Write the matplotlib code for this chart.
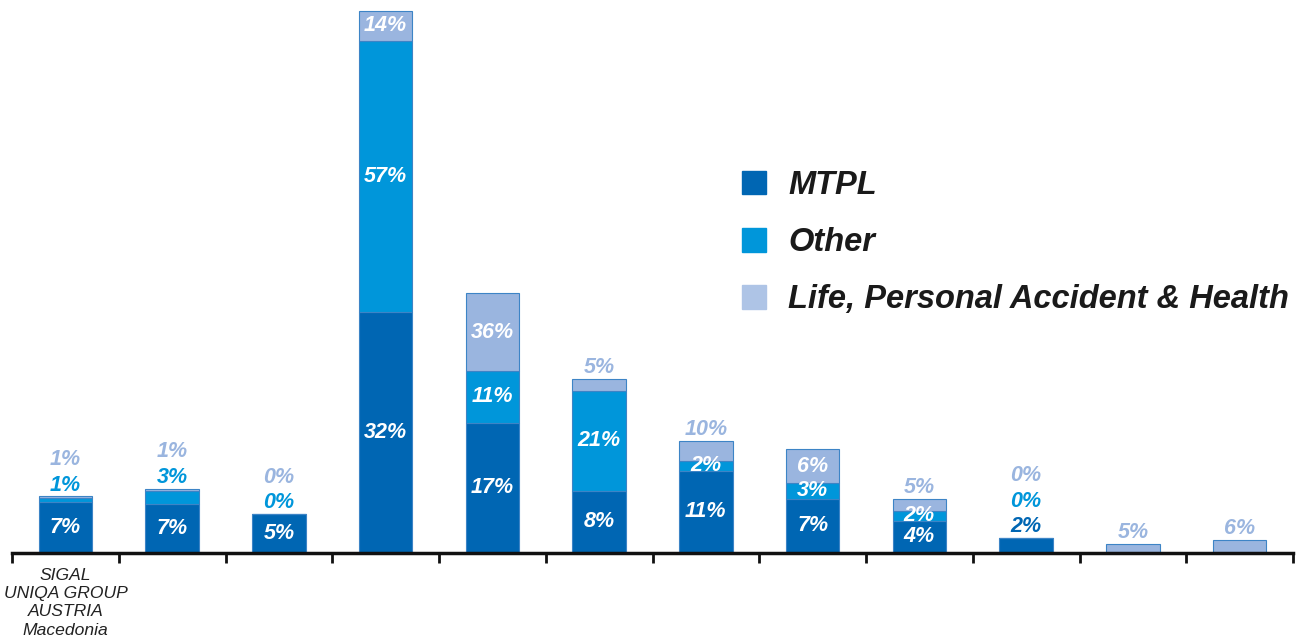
import matplotlib.pyplot as plt
from matplotlib.patches import Patch

# Companies on the x axis (only the first one is named)
companies = ['SIGAL\nUNIQA GROUP\nAUSTRIA\nMacedonia'] + [''] * 11
series = ['MTPL', 'Other', 'Life, Personal Accident & Health']

# Gross written premium per class of insurance
mtpl_premium = [51, 48.7, 38.7, 240.7, 129.7, 61.7, 82, 53.7, 31.7, 14.7, 0, 0]
other_premium = [3.4, 13, 0, 271, 52, 100, 9.7, 16, 10.3, 0, 0, 0]
life_premium = [2, 2.3, 0, 30.4, 78, 12, 20.3, 34, 12, 0, 9, 12.7]

# Market share within each class, in %
mtpl_share = [7, 7, 5, 32, 17, 8, 11, 7, 4, 2, None, None]
other_share = [1, 3, 0, 57, 11, 21, 2, 3, 2, 0, None, None]
life_share = [1, 1, 0, 14, 36, 5, 10, 6, 5, 0, 5, 6]

premiums = [mtpl_premium, other_premium, life_premium]
shares = [mtpl_share, other_share, life_share]

# (company, class) labels written above the bar instead of inside
above = {(0, 1), (0, 2), (1, 1), (1, 2), (2, 1), (2, 2), (5, 2), (6, 2),
         (8, 2), (9, 0), (9, 1), (9, 2), (10, 2), (11, 2)}

colors = ['#0066b3', '#0096da', '#9ab5df']
legend_colors = ['#0066b3', '#0096da', '#aec4e6']

plt.rcParams['font.family'] = ['Liberation Sans', 'DejaVu Sans']

fig = plt.figure(figsize=(13.06, 6.43), dpi=100)
ax = fig.add_axes([12 / 1306, 90.3 / 643, 1281 / 1306, 552.7 / 643])

x = list(range(len(companies)))
bottom = [0.0] * len(companies)
for s in range(3):
    ax.bar(x, premiums[s], 0.5, bottom=bottom, color=colors[s],
           edgecolor='#3d84c6', linewidth=0.8, zorder=2)
    bottom = [b + v for b, v in zip(bottom, premiums[s])]

label_font = dict(fontsize=15.5, fontweight='bold', fontstyle='italic')
for i in x:
    base = 0.0
    stacked = 0
    for s in range(3):
        h = premiums[s][i]
        share = shares[s][i]
        if share is not None:
            txt = f'{share}%'
            if (i, s) in above:
                ax.annotate(txt, (i, bottom[i]), xytext=(0, 8 + 18.5 * stacked),
                            textcoords='offset points', ha='center', va='center',
                            color=colors[s], zorder=3, **label_font)
                stacked += 1
            else:
                ax.text(i, base + h / 2, txt, ha='center', va='center',
                        color='white', zorder=3, **label_font)
        base += h

ax.set_xlim(-0.5, len(companies) - 0.5)
ax.set_ylim(0, 552.7)
ax.set_yticks([])
for side in ['left', 'right', 'top']:
    ax.spines[side].set_visible(False)
ax.spines['bottom'].set_linewidth(2.5)
ax.spines['bottom'].set_color('#111111')

ax.set_xticks(x, companies, fontsize=12.6, fontstyle='italic', color='#222222',
              linespacing=1.27)
ax.tick_params(axis='x', which='major', length=0, pad=11)
for lbl in ax.get_xticklabels():
    lbl.set_x(lbl.get_position()[0] + 0.03)
ax.set_xticks([i - 0.5 for i in range(len(companies) + 1)], minor=True)
ax.tick_params(axis='x', which='minor', length=7, width=2, color='#111111')

handles = [Patch(color=c, label=l) for c, l in zip(legend_colors, series)]
ax.legend(handles=handles, loc='upper left', frameon=False,
          bbox_to_anchor=(742 / 1306, 1 - 170 / 643), bbox_transform=fig.transFigure,
          prop=dict(size=23.5, weight='bold', style='italic'), labelcolor='#1a1a1a',
          handlelength=0.74, handleheight=0.74, handletextpad=0.67,
          labelspacing=0.8, borderpad=0, borderaxespad=0)

fig.savefig('out.png', dpi=100)
